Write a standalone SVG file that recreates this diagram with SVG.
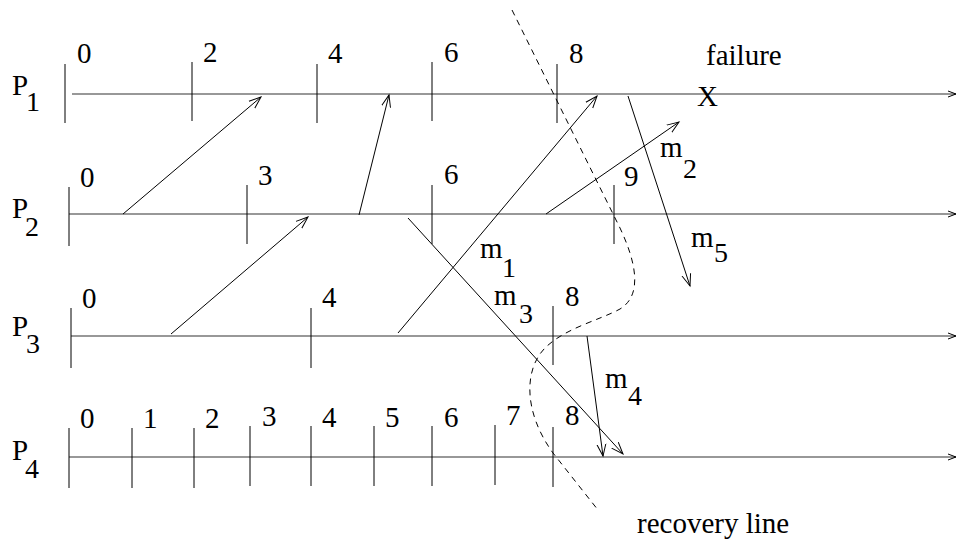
<svg xmlns="http://www.w3.org/2000/svg" width="957" height="540" viewBox="0 0 957 540" font-family="'Liberation Serif', 'Times New Roman', serif">
<style>
text{font-family:"Liberation Serif","Times New Roman",serif;font-size:29px;fill:#000}
.sub{font-size:28px}
.tl{stroke:#333;stroke-width:1.2;fill:none}
.tk{stroke:#000;stroke-width:1;fill:none}
.msg{stroke:#000;stroke-width:1;fill:none}
.rec{stroke:#000;stroke-width:1;fill:none;stroke-dasharray:6,5}
</style>
<defs>
<marker id="ah" markerUnits="userSpaceOnUse" markerWidth="16" markerHeight="12" refX="12" refY="6" orient="auto">
<path d="M0,1.5 L12,6 L0,10.5" fill="none" stroke="#000" stroke-width="1"/>
</marker>
<marker id="ahs" markerUnits="userSpaceOnUse" markerWidth="10" markerHeight="8" refX="8" refY="4" orient="auto">
<path d="M0,1 L8,4 L0,7" fill="none" stroke="#000" stroke-width="1"/>
</marker>
</defs>

<g id="P1">
<line class="tl" x1="72" y1="94" x2="956" y2="94" marker-end="url(#ahs)"/>
<text x="12" y="95">P</text><text class="sub" x="26" y="111">1</text>
<line class="tk" x1="65" y1="64" x2="65" y2="123"/>
<line class="tk" x1="192" y1="62" x2="192" y2="121"/>
<line class="tk" x1="317" y1="64" x2="317" y2="123"/>
<line class="tk" x1="432" y1="62" x2="432" y2="121"/>
<line class="tk" x1="557" y1="64" x2="557" y2="123"/>
<text x="77" y="63">0</text>
<text x="203" y="62">2</text>
<text x="328" y="63">4</text>
<text x="444" y="62">6</text>
<text x="569" y="63">8</text>
<text x="706" y="65">failure</text>
<text x="697" y="106">X</text>
</g>

<g id="P2">
<line class="tl" x1="69" y1="214" x2="956" y2="214" marker-end="url(#ahs)"/>
<text x="12" y="218">P</text><text class="sub" x="25" y="236">2</text>
<line class="tk" x1="69" y1="187" x2="69" y2="246"/>
<line class="tk" x1="247" y1="185" x2="247" y2="244"/>
<line class="tk" x1="432" y1="185" x2="432" y2="244"/>
<line class="tk" x1="614" y1="185" x2="614" y2="244"/>
<text x="80" y="187">0</text>
<text x="258" y="185">3</text>
<text x="444" y="184">6</text>
<text x="624" y="186">9</text>
</g>

<g id="P3">
<line class="tl" x1="71" y1="336" x2="956" y2="336" marker-end="url(#ahs)"/>
<text x="12" y="336">P</text><text class="sub" x="26" y="353">3</text>
<line class="tk" x1="71" y1="308" x2="71" y2="368"/>
<line class="tk" x1="311" y1="308" x2="311" y2="368"/>
<line class="tk" x1="553" y1="306" x2="553" y2="365"/>
<text x="82" y="308">0</text>
<text x="322" y="307">4</text>
<text x="565" y="306">8</text>
</g>

<g id="P4">
<line class="tl" x1="69" y1="457" x2="956" y2="457" marker-end="url(#ahs)"/>
<text x="12" y="460">P</text><text class="sub" x="25" y="478">4</text>
<line class="tk" x1="69" y1="428" x2="69" y2="488"/>
<line class="tk" x1="132" y1="428" x2="132" y2="488"/>
<line class="tk" x1="194" y1="428" x2="194" y2="488"/>
<line class="tk" x1="250" y1="426" x2="250" y2="486"/>
<line class="tk" x1="311" y1="426" x2="311" y2="486"/>
<line class="tk" x1="374" y1="426" x2="374" y2="486"/>
<line class="tk" x1="432" y1="426" x2="432" y2="486"/>
<line class="tk" x1="495" y1="425" x2="495" y2="485"/>
<line class="tk" x1="553" y1="427" x2="553" y2="487"/>
<text x="80" y="428">0</text>
<text x="143" y="428">1</text>
<text x="205" y="428">2</text>
<text x="262" y="426">3</text>
<text x="322" y="427">4</text>
<text x="385" y="427">5</text>
<text x="444" y="427">6</text>
<text x="506" y="425">7</text>
<text x="565" y="425">8</text>
</g>

<g id="connectors">
<line class="msg" x1="123" y1="214" x2="261" y2="97" marker-end="url(#ah)"/>
<line class="msg" x1="359" y1="215" x2="389" y2="95" marker-end="url(#ah)"/>
<line class="msg" x1="171" y1="334" x2="308" y2="217" marker-end="url(#ah)"/>
<line class="msg" x1="398" y1="333" x2="597" y2="96" marker-end="url(#ah)"/>
<line class="msg" x1="408" y1="218" x2="623" y2="454" marker-end="url(#ah)"/>
<line class="msg" x1="546" y1="214" x2="679" y2="122" marker-end="url(#ah)"/>
<line class="msg" x1="628" y1="96" x2="690" y2="286" marker-end="url(#ah)"/>
<line class="msg" x1="587" y1="336" x2="603" y2="456" marker-end="url(#ah)"/>
<path class="rec" d="M512,10 L620,228 C636,262 643,295 620,309 C600,320 565,328 545,348 C525,368 522,410 553,453 L598,510"/>
</g>

<g id="labels">
<text x="480" y="258">m</text><text class="sub" x="502" y="277">1</text>
<text x="660" y="157">m</text><text class="sub" x="683" y="178">2</text>
<text x="494" y="305">m</text><text class="sub" x="519" y="323">3</text>
<text x="605" y="388">m</text><text class="sub" x="628" y="405">4</text>
<text x="691" y="247">m</text><text class="sub" x="714" y="262">5</text>
<text x="637" y="533">recovery line</text>
</g>
</svg>
